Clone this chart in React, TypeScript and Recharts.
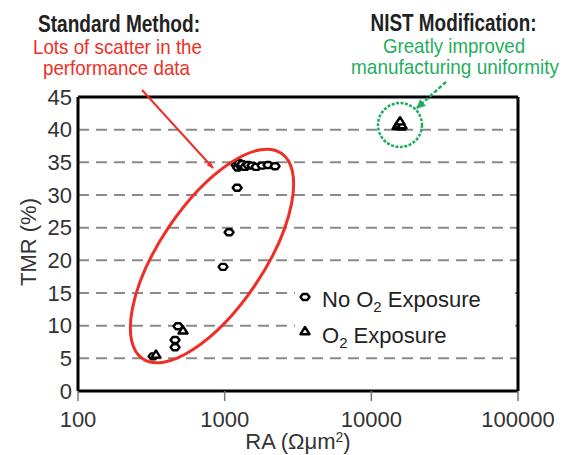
import React from 'react';
import { ScatterChart, Scatter, XAxis, YAxis, CartesianGrid, ReferenceLine, Legend } from 'recharts';

// ---- data ----
const noO2RA = [325, 459, 459, 481, 975, 1072, 1217, 1197, 1225, 1253, 1290, 1314, 1377, 1444, 1538, 1638, 1799, 1976, 2207];
const noO2TMR = [5.3, 6.7, 7.8, 9.9, 19.0, 24.3, 31.1, 34.6, 34.2, 34.9, 34.4, 34.7, 34.3, 34.6, 34.5, 34.3, 34.5, 34.6, 34.4];
const o2RA = [340, 520, 15000, 15500, 15900, 15300, 16200, 15700];
const o2TMR = [5.6, 9.3, 40.6, 41.0, 40.5, 40.9, 40.7, 41.3];
const xTicks = [100, 1000, 10000, 100000];
const yTicks = [0, 5, 10, 15, 20, 25, 30, 35, 40, 45];

const noO2Data = noO2RA.map((ra, i) => ({ ra, tmr: noO2TMR[i] }));
const o2Data = o2RA.map((ra, i) => ({ ra, tmr: o2TMR[i] }));

const FONT = '"Liberation Sans", Arial, Helvetica, sans-serif';
const RED = '#ef2f27';
const GREEN = '#1fae5e';

const hexPoints = (cx: number, cy: number) =>
  `${cx - 4.5},${cy} ${cx - 2.2},${cy - 3} ${cx + 2.2},${cy - 3} ${cx + 4.5},${cy} ${cx + 2.2},${cy + 3} ${cx - 2.2},${cy + 3}`;
const triPoints = (cx: number, cy: number) =>
  `${cx},${cy - 4} ${cx + 4.5},${cy + 3.2} ${cx - 4.5},${cy + 3.2}`;

const HexShape = (props: any) => {
  const { cx, cy } = props;
  if (cx == null || cy == null) return null;
  return <polygon points={hexPoints(cx, cy)} fill="#fff" stroke="#000" strokeWidth={2.4} strokeLinejoin="round" />;
};
const TriShape = (props: any) => {
  const { cx, cy } = props;
  if (cx == null || cy == null) return null;
  return <polygon points={triPoints(cx, cy)} fill="#f4f4e0" stroke="#000" strokeWidth={2.4} strokeLinejoin="round" />;
};

const XLabel = (props: any) => {
  const vb = props.viewBox || { x: 78, y: 391, width: 440, height: 64 };
  return (
    <text x={vb.x + vb.width / 2} y={vb.y + 58} textAnchor="middle" fontFamily={FONT} fontSize={22} fill="#333">
      RA (Ωμm<tspan fontSize={14} dy={-7}>2</tspan><tspan dy={7}>)</tspan>
    </text>
  );
};

const YLabel = (props: any) => {
  const vb = props.viewBox || { x: 0, y: 97, width: 78, height: 294 };
  const cx = 28;
  const cy = vb.y + vb.height / 2 - 2;
  return (
    <text x={cx} y={cy} transform={`rotate(-90 ${cx} ${cy})`} textAnchor="middle" dominantBaseline="central" fontFamily={FONT} fontSize={22} fill="#333">
      TMR (%)
    </text>
  );
};

const LegendBox = () => (
  <svg width={220} height={70}>
    <polygon points={hexPoints(10, 15)} fill="#fff" stroke="#000" strokeWidth={2.4} strokeLinejoin="round" />
    <text x={27} y={25} fontFamily={FONT} fontSize={22} fill="#222">
      No O<tspan fontSize={15} dy={5}>2</tspan><tspan dy={-5}> Exposure</tspan>
    </text>
    <polygon points={triPoints(10, 49)} fill="#f4f4e0" stroke="#000" strokeWidth={2.4} strokeLinejoin="round" />
    <text x={27} y={61} fontFamily={FONT} fontSize={22} fill="#222">
      O<tspan fontSize={15} dy={5}>2</tspan><tspan dy={-5}> Exposure</tspan>
    </text>
  </svg>
);

const Annotations = () => (
  <svg width={564} height={455} style={{ position: 'absolute', left: 0, top: 0, pointerEvents: 'none' }}>
    <defs>
      <marker id="redHead" viewBox="0 0 10 10" refX="9" refY="5" markerWidth="8" markerHeight="7" orient="auto" markerUnits="userSpaceOnUse">
        <path d="M0,1 L10,5 L0,9 z" fill={RED} />
      </marker>
      <marker id="greenHead" viewBox="0 0 10 10" refX="9" refY="5" markerWidth="10" markerHeight="9" orient="auto" markerUnits="userSpaceOnUse">
        <path d="M0,0 L10,5 L0,10 z" fill={GREEN} />
      </marker>
    </defs>
    <text x={119} y={31.5} textAnchor="middle" fontFamily={FONT} fontWeight="bold" fontSize={23} fill="#222" textLength={162} lengthAdjust="spacingAndGlyphs">Standard Method:</text>
    <text x={117.5} y={53.5} textAnchor="middle" fontFamily={FONT} fontSize={21} fill={RED} textLength={169} lengthAdjust="spacingAndGlyphs">Lots of scatter in the</text>
    <text x={116.5} y={75} textAnchor="middle" fontFamily={FONT} fontSize={21} fill={RED} textLength={147} lengthAdjust="spacingAndGlyphs">performance data</text>
    <text x={453.5} y={31} textAnchor="middle" fontFamily={FONT} fontWeight="bold" fontSize={23} fill="#222" textLength={166} lengthAdjust="spacingAndGlyphs">NIST Modification:</text>
    <text x={454} y={53} textAnchor="middle" fontFamily={FONT} fontSize={21} fill={GREEN} textLength={142} lengthAdjust="spacingAndGlyphs">Greatly improved</text>
    <text x={455} y={74} textAnchor="middle" fontFamily={FONT} fontSize={21} fill={GREEN} textLength={208} lengthAdjust="spacingAndGlyphs">manufacturing uniformity</text>
    <line x1={142} y1={90} x2={213} y2={168} stroke={RED} strokeWidth={2} markerEnd="url(#redHead)" />
    <ellipse cx={212} cy={256} rx={124} ry={52} transform="rotate(-56 212 256)" fill="none" stroke={RED} strokeWidth={3} />
    <line x1={446} y1={82} x2={417} y2={108} stroke={GREEN} strokeWidth={2.5} strokeDasharray="4 2" markerEnd="url(#greenHead)" />
    <circle cx={400} cy={125} r={22} fill="none" stroke={GREEN} strokeWidth={2.5} strokeDasharray="3 1.5" />
  </svg>
);

export default function App() {
  return (
    <div style={{ position: 'absolute', left: 0, top: 0, width: 564, height: 455, background: '#fff' }}>
      <ScatterChart width={564} height={455} margin={{ top: 97, right: 46, bottom: 0, left: 0 }}>
        <CartesianGrid horizontal vertical={false} stroke="#8a8a8a" strokeWidth={2} strokeDasharray="11 7" />
        <XAxis
          type="number"
          dataKey="ra"
          scale="log"
          domain={[100, 100000]}
          ticks={xTicks}
          interval={0}
          allowDataOverflow
          height={64}
          tickSize={10}
          tickMargin={10}
          tickLine={{ stroke: '#777', strokeWidth: 1.5 }}
          axisLine={{ stroke: '#000', strokeWidth: 3 }}
          tick={{ fontSize: 22, fill: '#333', fontFamily: FONT }}
          label={<XLabel />}
        />
        <YAxis
          type="number"
          dataKey="tmr"
          domain={[0, 45]}
          ticks={yTicks}
          interval={0}
          width={78}
          tickSize={0}
          tickMargin={6}
          tickLine={false}
          axisLine={{ stroke: '#000', strokeWidth: 3 }}
          tick={{ fontSize: 22, fill: '#333', fontFamily: FONT }}
          label={<YLabel />}
        />
        <Legend
          layout="vertical"
          align="center"
          verticalAlign="middle"
          content={() => <LegendBox />}
          wrapperStyle={{ left: 295, top: 282, width: 220, height: 70, background: '#fff', lineHeight: 0 }}
        />
        <Scatter name="No O2 Exposure" data={noO2Data} shape={<HexShape />} isAnimationActive={false} />
        <Scatter name="O2 Exposure" data={o2Data} shape={<TriShape />} isAnimationActive={false} />
        <ReferenceLine y={45} stroke="#000" strokeWidth={3} />
        <ReferenceLine x={100000} stroke="#000" strokeWidth={3} />
      </ScatterChart>
      <Annotations />
    </div>
  );
}
